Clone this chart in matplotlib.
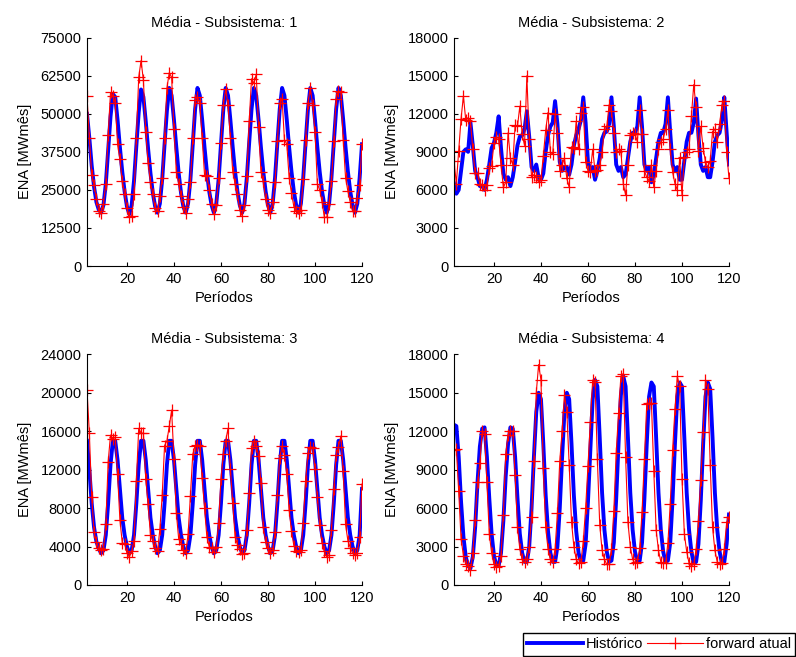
import numpy as np
import matplotlib
matplotlib.use('Agg')
import matplotlib.pyplot as plt

plt.rcParams['font.family'] = ['Liberation Sans', 'DejaVu Sans']
plt.rcParams['font.size'] = 10

# periodos 3..120
periodos = list(range(3, 121))

# Subsistema 1
hist_s1 = [50000, 42000, 33000, 26000, 21000, 18500, 17500, 20000, 27000, 38000, 49000, 56500,
           55500, 48000, 39000, 31000, 24500, 19500, 17000, 20000, 28000, 39500, 50500, 58000,
           55500, 47500, 38500, 30500, 24000, 19500, 17500, 20500, 28500, 40000, 51000, 58500,
           56000, 48000, 39000, 30500, 24000, 19500, 17500, 20500, 28500, 40000, 51500, 58500,
           56000, 48000, 39000, 31000, 24500, 20000, 17500, 20500, 28500, 40000, 51500, 58500,
           56000, 48000, 39000, 31000, 24500, 20000, 17500, 20500, 29000, 40500, 51500, 58500,
           56000, 48000, 39000, 31000, 24500, 20000, 17500, 20500, 29000, 40500, 51500, 58500,
           56000, 48000, 39000, 31000, 24500, 20000, 17500, 20500, 29000, 40500, 51500, 58500,
           56000, 48000, 39000, 31000, 24500, 20000, 17500, 20500, 29000, 40500, 51500, 58500,
           56000, 48000, 39000, 31000, 24500, 20000, 17500, 20500, 29000, 40000]
fwd_s1 = [56000, 42000, 30000, 26500, 22000, 18000, 17500, 20500, 27000, 43000, 57000, 56000,
          53500, 40000, 35000, 28000, 23500, 19000, 16000, 16500, 23500, 42000, 62000, 67500,
          61000, 44000, 34000, 27500, 23500, 19000, 18000, 23000, 29000, 42000, 58500, 63500,
          62000, 45000, 31000, 27000, 23000, 19500, 17500, 22000, 27500, 42000, 54500, 55500,
          53500, 42000, 30000, 29500, 25000, 20500, 17000, 20000, 29000, 40500, 53000, 58000,
          53000, 42000, 31000, 27000, 23500, 18500, 16500, 20000, 29500, 47500, 61500, 60000,
          63000, 45500, 31000, 28000, 22000, 18500, 17500, 21000, 27500, 41000, 53500, 55000,
          41500, 40000, 29000, 24000, 19500, 18000, 17500, 18500, 28500, 41500, 53500, 58500,
          53000, 44000, 27000, 25000, 21000, 16000, 16000, 20500, 28000, 41000, 55000, 57500,
          57000, 41500, 29000, 24500, 21000, 18000, 18000, 22500, 26500, 40000]

# Subsistema 2
hist_s2 = [6500, 5700, 6000, 7500, 9000, 9200, 9000, 11300, 9500, 7500, 7000, 6300,
           6300, 6000, 6800, 8000, 9300, 9700, 10500, 11800, 9300, 7300, 6800, 7000,
           6300, 7000, 8200, 9500, 10200, 10300, 10800, 12200, 10200, 7800, 7500, 8000,
           7000, 6800, 7300, 9000, 10300, 11000, 11300, 13000, 11200, 8200, 7500, 7800,
           7800, 7200, 8000, 9500, 10300, 10800, 11500, 13300, 11300, 8200, 7600, 7800,
           6800, 7500, 8500, 10000, 10500, 10600, 11200, 13300, 11000, 8000, 7500, 7800,
           7000, 7200, 8500, 9800, 10500, 10500, 11000, 13300, 11000, 8000, 7500, 7800,
           6600, 7200, 8500, 9800, 10500, 10500, 11200, 13300, 10500, 8000, 7500, 7800,
           6800, 6800, 8300, 9800, 10500, 10500, 11300, 13200, 10300, 8000, 7500, 7800,
           7000, 7000, 8200, 9800, 10300, 10500, 11500, 13300, 10500, 8000]
fwd_s2 = [8300, 6500, 9100, 11600, 13400, 11500, 11700, 11400, 9200, 7300, 7300, 6500,
          6400, 6000, 6400, 7700, 7900, 9700, 10200, 10000, 8000, 6200, 6600, 10500,
          8500, 8000, 11100, 11000, 12600, 10400, 9500, 15000, 10000, 7000, 7200, 7000,
          6600, 6800, 8700, 10700, 12100, 9000, 8800, 12000, 10500, 7500, 8000, 8500,
          6900, 6200, 9400, 9300, 11400, 9200, 12100, 12500, 8200, 7500, 7400, 9200,
          7500, 7600, 8000, 9000, 10800, 11000, 12700, 12200, 10500, 9000, 9200, 9100,
          6500, 5600, 8000, 10300, 10500, 10400, 9800, 12300, 10400, 7500, 7000, 6700,
          8000, 6200, 7500, 9200, 9800, 10000, 10800, 12300, 9200, 7400, 6500, 6000,
          8500, 5600, 8600, 9000, 9200, 11800, 14300, 12500, 9100, 11000, 9300, 8200,
          7800, 8300, 10600, 10800, 9800, 11200, 12700, 13000, 9000, 6900]

# Subsistema 3
hist_s3 = [15000, 12000, 8500, 6000, 4500, 3800, 3300, 3600, 5200, 8500, 12500, 15000,
           15000, 13000, 10000, 7000, 5200, 4000, 3300, 3600, 5200, 8500, 12500, 15000,
           15000, 13000, 10000, 7000, 5200, 4000, 3300, 3600, 5200, 8500, 12500, 15000,
           15000, 13000, 10000, 7000, 5200, 4000, 3300, 3600, 5200, 8500, 12500, 15000,
           15000, 13000, 10000, 7000, 5200, 4000, 3300, 3600, 5200, 8500, 12500, 15000,
           15000, 13000, 10000, 7000, 5200, 4000, 3300, 3600, 5200, 8500, 12500, 15000,
           15000, 13000, 10000, 7000, 5200, 4000, 3300, 3600, 5200, 8500, 12500, 15000,
           15000, 13000, 10000, 7000, 5200, 4000, 3300, 3600, 5200, 8500, 12500, 15000,
           15000, 13000, 10000, 7000, 5200, 4000, 3300, 3600, 5200, 8500, 12500, 15000,
           15000, 13000, 10000, 7000, 5200, 4000, 3300, 3600, 5200, 10000]
fwd_s3 = [20300, 15800, 9200, 5500, 4500, 3800, 3600, 3700, 6300, 12800, 15600, 15200,
          15400, 11500, 6800, 4400, 4300, 3300, 2900, 3500, 4600, 10800, 16300, 15800,
          15800, 11000, 8400, 5200, 4600, 3900, 3500, 5800, 9400, 14500, 15000, 16500,
          18200, 13100, 7500, 4800, 4300, 3600, 3300, 5300, 9300, 13600, 14500, 14600,
          14500, 11100, 8000, 5000, 4000, 3800, 3400, 4000, 6400, 11000, 13600, 15000,
          16300, 12100, 8500, 5000, 4200, 3700, 3200, 3300, 5700, 9600, 14300, 15000,
          14500, 13400, 10600, 6000, 4500, 3800, 3300, 3600, 5500, 9400, 13200, 14500,
          13500, 11500, 7800, 5600, 4100, 3500, 3400, 3600, 6500, 10800, 13700, 14400,
          14300, 12100, 9200, 6200, 4400, 3500, 2900, 3100, 5700, 10000, 13500, 14400,
          15500, 11900, 6300, 4600, 3900, 3300, 3100, 3300, 5000, 10500]

# Subsistema 4
hist_s4 = [12500, 12400, 10000, 6500, 3800, 2200, 1500, 1300, 2200, 4500, 8000, 10800,
           12200, 12300, 10000, 6800, 4000, 2300, 1500, 1500, 2500, 5000, 8500, 11000,
           12300, 12200, 10000, 6800, 4000, 2500, 1800, 1800, 3000, 6000, 10000, 13500,
           15000, 14500, 11000, 7000, 4200, 2500, 1800, 1800, 3000, 6000, 10000, 13500,
           15000, 14500, 11000, 7000, 4200, 2500, 1800, 1900, 3200, 6500, 10500, 14500,
           16000, 15500, 11500, 7200, 4300, 2600, 1800, 1900, 3300, 6700, 11000, 14800,
           16300, 15500, 11500, 7200, 4300, 2600, 1800, 1900, 3300, 6700, 11000, 14700,
           15800, 15500, 11500, 7200, 4300, 2600, 1800, 1900, 3300, 6700, 11000, 14700,
           15800, 15500, 11500, 7200, 4300, 2600, 1700, 1800, 3200, 6600, 11000, 14700,
           15800, 15300, 11500, 7200, 4300, 2600, 1700, 1800, 3200, 5500]
fwd_s4 = [10500, 10600, 7300, 3600, 2300, 1600, 1500, 1200, 2500, 5100, 8000, 9500,
          12000, 11800, 8000, 4000, 2500, 1600, 1400, 1500, 2300, 5500, 10200, 11700,
          12000, 12000, 8600, 4500, 2800, 2000, 1800, 2000, 3000, 5300, 9700, 15000,
          17200, 16000, 9100, 4500, 2800, 2000, 1800, 2800, 5600, 9700, 12000, 14800,
          13500, 9400, 4900, 3000, 2000, 1700, 1800, 3400, 6000, 9300, 12700, 16000,
          15800, 9800, 4700, 2700, 2000, 1600, 1600, 2800, 5800, 10300, 13400, 16300,
          16500, 10000, 4900, 3000, 2000, 1700, 1800, 2900, 5700, 9800, 14100, 14200,
          14200, 8900, 4300, 2700, 1800, 1700, 1700, 3300, 6300, 10500, 13700, 16300,
          15500, 8300, 4000, 2600, 1700, 1500, 1600, 2800, 5000, 8200, 11900, 16000,
          15300, 9400, 4500, 2700, 1800, 1600, 1700, 2800, 4900, 5300]

historico = [hist_s1, hist_s2, hist_s3, hist_s4]
forward = [fwd_s1, fwd_s2, fwd_s3, fwd_s4]
ymaxs = [75000, 18000, 24000, 18000]
ysteps = [12500, 3000, 4000, 3000]

W, H = 796, 657
fig = plt.figure(figsize=(W / 100, H / 100), dpi=100)

# [left, top, right, bottom] em pixels
caixas = [[87, 37.7, 362, 266], [454, 37.7, 729, 266],
          [87, 354.3, 362, 585], [454, 354.3, 729, 585]]

for i in range(4):
    l, t, r, b = caixas[i]
    ax = fig.add_axes([l / W, 1 - b / H, (r - l) / W, (b - t) / H])
    ax.plot(periodos, historico[i], color=(0, 0, 1), lw=2.8, label='Histórico')
    ax.plot(periodos, forward[i], color=(1, 0, 0), lw=0.8, marker='+',
            ms=8, mew=0.9, label='forward atual')
    ax.set_xlim(3, 120)
    ax.set_ylim(0, ymaxs[i])
    ax.set_xticks(range(20, 121, 20))
    ax.set_yticks(np.arange(0, ymaxs[i] + 1, ysteps[i]))
    ax.spines['top'].set_visible(False)
    ax.spines['right'].set_visible(False)
    ax.tick_params(direction='in', length=3, labelsize=10.5, pad=4)
    ax.set_title(f'Média - Subsistema: {i+1}', fontsize=10.5, pad=8)
    ax.set_xlabel('Períodos', fontsize=10.5, labelpad=4)
    ax.set_ylabel('ENA [MWmês]', fontsize=10.5, labelpad=6)

handles, labels = ax.get_legend_handles_labels()
fig.legend(handles, labels, loc='lower right', bbox_to_anchor=(0.999, 0.002),
           ncol=2, frameon=True, fancybox=False, edgecolor='black',
           framealpha=1, borderaxespad=0, handlelength=3.8, fontsize=10.5,
           columnspacing=0.3, handletextpad=0.2, borderpad=0.3)

fig.savefig('out.png', dpi=100, facecolor='white')
